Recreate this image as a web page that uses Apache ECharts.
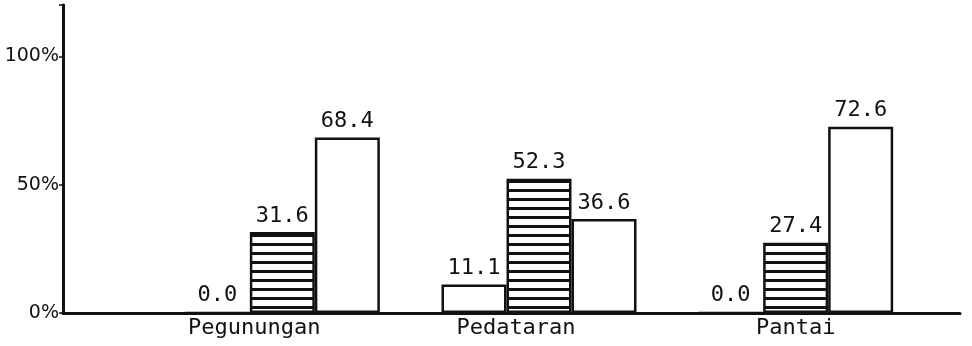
<!DOCTYPE html>
<html>
<head>
<meta charset="utf-8">
<script src="https://cdn.jsdelivr.net/npm/echarts@6/dist/echarts.min.js"></script>
<style>html,body{margin:0;padding:0;background:#fff;}#c{width:972px;height:346px;}</style>
</head>
<body>
<div id="c"></div>
<script>
const categories = ['Pegunungan', 'Pedataran', 'Pantai'];
const seriesA = [0.0, 11.1, 0.0];
const seriesB = [31.6, 52.3, 27.4];
const seriesC = [68.4, 36.6, 72.6];
const yTicks = [0, 50, 100];
const labelShift = [56, 46, 0];

const pat = document.createElement('canvas');
pat.width = 8; pat.height = 9;
const pctx = pat.getContext('2d');
pctx.fillStyle = '#fff'; pctx.fillRect(0, 0, 8, 9);
pctx.fillStyle = '#111'; pctx.fillRect(0, 0, 8, 3);

const ink = '#111';
const mono = '"DejaVu Sans Mono", "Liberation Mono", monospace';
const labelCfg = {
  show: true, position: 'top', distance: 5, color: ink,
  fontFamily: mono, fontSize: 22,
  formatter: p => p.value.toFixed(1)
};
const baseItem = { borderColor: ink, borderWidth: 2.5 };

const catData = categories.map((c, i) => ({ value: c, textStyle: { padding: [0, labelShift[i], 0, 0] } }));

const chart = echarts.init(document.getElementById('c'), null, { renderer: 'canvas' });
chart.setOption({
  backgroundColor: '#fff',
  animation: false,
  grid: [
    { left: 63, right: 12, top: 5, bottom: 33 },
    { left: 154, right: 48, top: 5, bottom: 33 }
  ],
  xAxis: [
    { type: 'value', gridIndex: 0, min: 0, max: 1,
      axisLine: { show: true, lineStyle: { color: ink, width: 3 } },
      axisTick: { show: false }, axisLabel: { show: false }, splitLine: { show: false } },
    { type: 'category', gridIndex: 1, data: catData,
      axisLine: { show: false }, axisTick: { show: false },
      axisLabel: { color: ink, fontFamily: mono, fontSize: 22, margin: 4 } }
  ],
  yAxis: [
    { type: 'value', gridIndex: 0, min: 0, max: 120, interval: 50,
      axisLine: { show: true, lineStyle: { color: ink, width: 3 } },
      axisTick: { show: true, length: 4, lineStyle: { color: ink, width: 1.5 } },
      splitLine: { show: false },
      axisLabel: { color: ink, fontFamily: '"DejaVu Sans", sans-serif', fontSize: 19, margin: 4,
        formatter: v => yTicks.indexOf(v) >= 0 ? v + '%' : '' } },
    { type: 'value', gridIndex: 1, min: 0, max: 120, show: false }
  ],
  series: [
    { type: 'bar', xAxisIndex: 1, yAxisIndex: 1, data: seriesA, barWidth: 65, barGap: '0%',
      itemStyle: Object.assign({ color: '#fff' }, baseItem), label: labelCfg },
    { type: 'bar', xAxisIndex: 1, yAxisIndex: 1, data: seriesB, barWidth: 65, barGap: '0%',
      itemStyle: Object.assign({ color: { image: pat, repeat: 'repeat' } }, baseItem), label: labelCfg },
    { type: 'bar', xAxisIndex: 1, yAxisIndex: 1, data: seriesC, barWidth: 65, barGap: '0%',
      itemStyle: Object.assign({ color: '#fff' }, baseItem), label: labelCfg }
  ]
});
</script>
</body>
</html>
